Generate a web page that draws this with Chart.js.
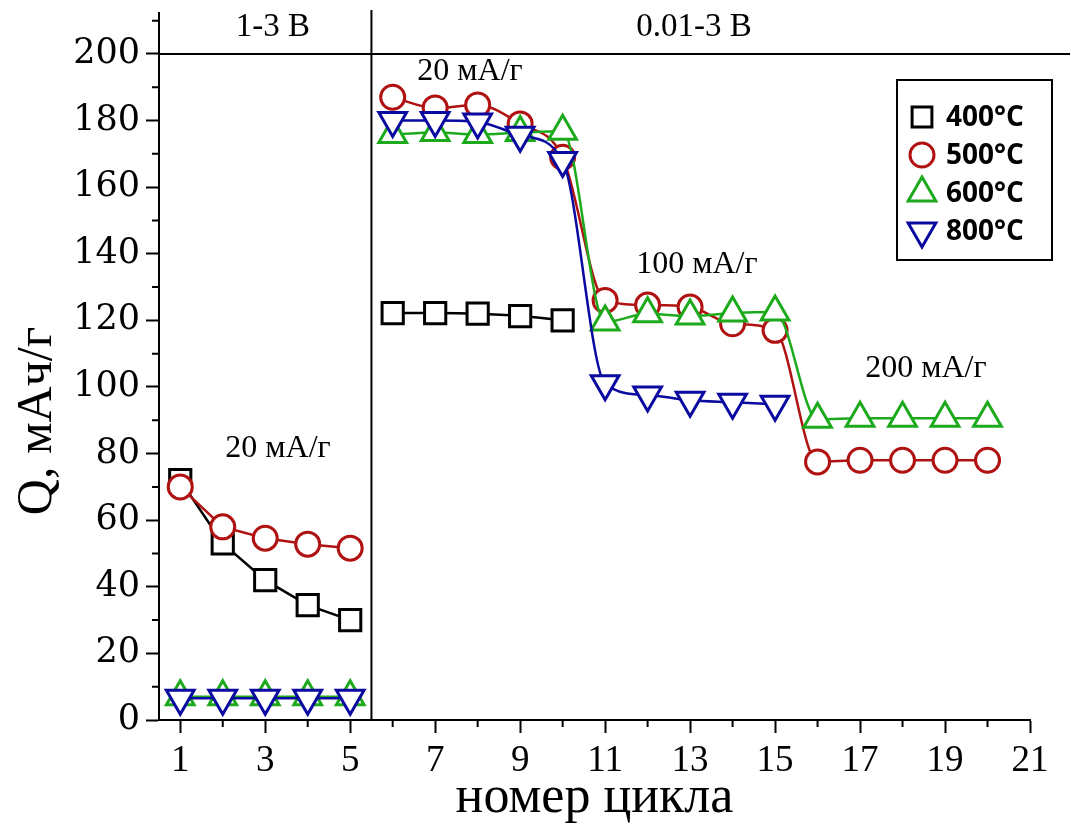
<!DOCTYPE html>
<html>
<head>
<meta charset="utf-8">
<script src="https://cdn.jsdelivr.net/npm/chart.js@4.4.1/dist/chart.umd.min.js"></script>
<style>
  body { margin: 0; background: #fff; }
  #wrap { width: 1071px; height: 836px; position: relative; }
</style>
</head>
<body>
<div id="wrap"><canvas id="chart"></canvas></div>
<script>
// data
const cycles = [1, 2, 3, 4, 5, 6, 7, 8, 9, 10, 11, 12, 13, 14, 15, 16, 17, 18, 19, 20];
const q400 = [72, 53, 42, 34.5, 30, 122.2, 122.2, 122, 121.3, 120, null, null, null, null, null, null, null, null, null, null];
const q500 = [70, 58, 54.6, 52.8, 51.6, 187, 183.8, 184.7, 179, 169, 126, 124.6, 124, 119, 117, 77.5, 78, 78, 78, 78];
const q600 = [7, 7, 7, 7, 7, 175.8, 176.4, 175.8, 176.4, 176.8, 119.5, 122, 121.3, 122.2, 122.5, 90.3, 90.6, 90.6, 90.6, 90.6];
const q800 = [6.5, 6.5, 6.5, 6.5, 6.5, 180, 180, 179.6, 175.6, 168, 101, 97.6, 96, 95.4, 94.8, null, null, null, null, null];
const seriesNames = ['400°C', '500°C', '600°C', '800°C'];
const xTicks = [1, 3, 5, 7, 9, 11, 13, 15, 17, 19, 21];
const yTicks = [0, 20, 40, 60, 80, 100, 120, 140, 160, 180, 200];
const windowLabels = ['1-3 В', '0.01-3 В'];
const rateLabels = ['20 мА/г', '20 мА/г', '100 мА/г', '200 мА/г'];

const colors = ['#000000', '#b01212', '#1caa1c', '#0a0aa0'];
const styles = [
  { pointStyle: 'rect', radius: 15, rotation: 0 },
  { pointStyle: 'circle', radius: 12, rotation: 0 },
  { pointStyle: 'triangle', radius: 16, rotation: 0 },
  { pointStyle: 'triangle', radius: 16, rotation: 180 }
];
const allSeries = [q400, q500, q600, q800];

function pts(vals, from, to) {
  const out = [];
  for (let i = from; i < to; i++) {
    if (vals[i] !== null) out.push({ x: cycles[i], y: vals[i] });
  }
  return out;
}

const datasets = [];
allSeries.forEach(function (vals, i) {
  const base = {
    label: seriesNames[i],
    borderColor: colors[i],
    pointBorderColor: colors[i],
    pointBackgroundColor: '#ffffff',
    pointStyle: styles[i].pointStyle,
    pointRadius: styles[i].radius,
    pointRotation: styles[i].rotation,
    pointBorderWidth: 3,
    borderWidth: 2.5,
    order: 4 - i,
    clip: false
  };
  datasets.push(Object.assign({}, base, { data: pts(vals, 0, 5), tension: 0 }));
  datasets.push(Object.assign({}, base, { data: pts(vals, 5, 20), cubicInterpolationMode: 'monotone' }));
});

const extras = {
  id: 'extras',
  beforeDatasetsDraw(chart) {
    const ctx = chart.ctx, x = chart.scales.x, y = chart.scales.y, a = chart.chartArea;
    ctx.save();
    ctx.strokeStyle = '#000';
    ctx.lineWidth = 2;
    // 200 line across the top
    ctx.beginPath();
    ctx.moveTo(a.left, y.getPixelForValue(200));
    ctx.lineTo(chart.width - 1, y.getPixelForValue(200));
    ctx.stroke();
    // separator between the two voltage windows
    const sx = x.getPixelForValue(5.5);
    ctx.beginPath();
    ctx.moveTo(sx, 10);
    ctx.lineTo(sx, a.bottom);
    ctx.stroke();
    // axis line goes a bit above the plot
    ctx.beginPath();
    ctx.moveTo(a.left, a.top);
    ctx.lineTo(a.left, 12);
    ctx.stroke();
    // minor ticks
    ctx.beginPath();
    for (let v = 10; v <= 210; v += 20) {
      const py = y.getPixelForValue(v);
      ctx.moveTo(a.left, py); ctx.lineTo(a.left - 7, py);
    }
    for (let v = 2; v <= 20; v += 2) {
      const px = x.getPixelForValue(v);
      ctx.moveTo(px, a.bottom); ctx.lineTo(px, a.bottom + 7);
    }
    ctx.stroke();
    ctx.restore();
  },
  afterDraw(chart) {
    const ctx = chart.ctx, x = chart.scales.x, y = chart.scales.y;
    ctx.save();
    ctx.fillStyle = '#000';
    ctx.textAlign = 'center';
    ctx.textBaseline = 'middle';
    ctx.font = '33px "Liberation Serif"';
    ctx.fillText(windowLabels[0], x.getPixelForValue(3.18), 27);
    ctx.fillText(windowLabels[1], x.getPixelForValue(13.09), 27);
    ctx.font = '32px "Liberation Serif"';
    ctx.fillText(rateLabels[0], x.getPixelForValue(3.3), y.getPixelForValue(81.4));
    ctx.fillText(rateLabels[1], x.getPixelForValue(7.82), y.getPixelForValue(194.6));
    ctx.fillText(rateLabels[2], x.getPixelForValue(13.16), y.getPixelForValue(136.9));
    ctx.fillText(rateLabels[3], x.getPixelForValue(18.55), y.getPixelForValue(105.4));

    // y axis title
    ctx.save();
    ctx.translate(38, 421);
    ctx.rotate(-Math.PI / 2);
    ctx.font = '50px "Liberation Serif"';
    ctx.fillText('Q, мАч/г', 0, 0);
    ctx.restore();

    // legend box
    ctx.lineWidth = 2;
    ctx.strokeStyle = '#000';
    ctx.strokeRect(897, 80, 155, 180);
    ctx.textAlign = 'left';
    ctx.font = 'bold 28px "Open Sans"';
    const rowsY = [117, 155, 193, 231];
    seriesNames.forEach(function (name, i) {
      ctx.strokeStyle = colors[i];
      ctx.fillStyle = '#fff';
      ctx.lineWidth = 3;
      Chart.helpers.drawPoint(ctx, {
        pointStyle: styles[i].pointStyle,
        rotation: styles[i].rotation,
        radius: styles[i].pointStyle === 'rect' ? 14 : styles[i].radius,
        borderWidth: 3
      }, 922, rowsY[i]);
      ctx.fillStyle = '#000';
      ctx.fillText(name, 946, rowsY[i] + 1);
    });
    ctx.restore();
  }
};

new Chart(document.getElementById('chart'), {
  type: 'line',
  data: { datasets: datasets },
  options: {
    responsive: true,
    maintainAspectRatio: false,
    animation: false,
    layout: { padding: { top: 0, right: 41, left: 0, bottom: 0 } },
    plugins: { legend: { display: false }, tooltip: { enabled: false } },
    scales: {
      x: {
        type: 'linear',
        min: 0.5,
        max: 21,
        afterBuildTicks: function (s) { s.ticks = xTicks.map(v => ({ value: v })); },
        afterFit: function (s) { s.height = 116; s.paddingLeft = 0; s.paddingRight = 0; },
        grid: { drawOnChartArea: false, tickLength: 13, tickColor: '#000', tickWidth: 2 },
        border: { color: '#000', width: 2 },
        ticks: { color: '#000', padding: 6, maxRotation: 0, font: { family: 'Liberation Serif', size: 37 } },
        title: { display: true, text: 'номер цикла', color: '#000', padding: { top: 0, bottom: 6 }, font: { family: 'Liberation Serif', size: 52 } }
      },
      y: {
        min: 0,
        max: 210.5,
        afterBuildTicks: function (s) { s.ticks = yTicks.map(v => ({ value: v })); },
        afterFit: function (s) { s.width = 159; s.paddingTop = 0; s.paddingBottom = 0; },
        grid: { drawOnChartArea: false, tickLength: 13, tickColor: '#000', tickWidth: 2 },
        border: { color: '#000', width: 2 },
        ticks: { color: '#000', padding: 6, font: { family: 'DejaVu Serif', size: 35 } }
      }
    }
  },
  plugins: [extras]
});
</script>
</body>
</html>
